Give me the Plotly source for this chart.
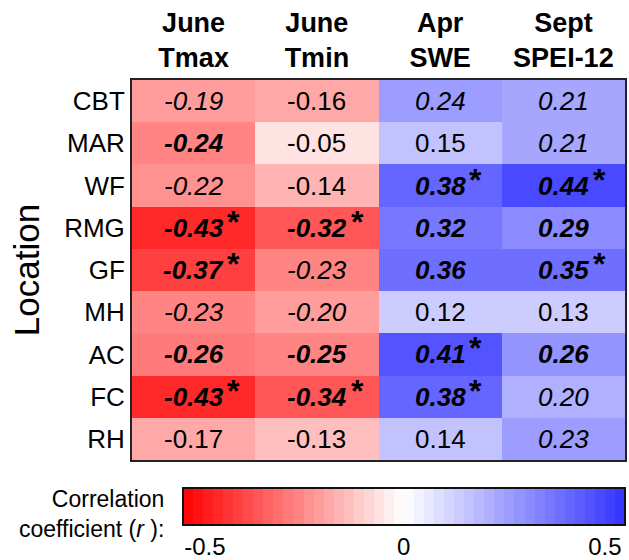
import plotly.graph_objects as go

# ---- data ----
locations = ["CBT", "MAR", "WF", "RMG", "GF", "MH", "AC", "FC", "RH"]
variables = ["June<br>Tmax", "June<br>Tmin", "Apr<br>SWE", "Sept<br>SPEI-12"]

tmax = [-0.19, -0.24, -0.22, -0.43, -0.37, -0.23, -0.26, -0.43, -0.17]
tmin = [-0.16, -0.05, -0.14, -0.32, -0.23, -0.20, -0.25, -0.34, -0.13]
swe = [0.24, 0.15, 0.38, 0.32, 0.36, 0.12, 0.41, 0.38, 0.14]
spei = [0.21, 0.21, 0.44, 0.29, 0.35, 0.13, 0.26, 0.20, 0.23]

# text style per cell: n = normal, i = italic, bi = bold italic
style_tmax = ["i", "bi", "i", "bi", "bi", "i", "bi", "bi", "n"]
style_tmin = ["n", "n", "n", "bi", "i", "i", "bi", "bi", "n"]
style_swe = ["i", "n", "bi", "bi", "bi", "n", "bi", "bi", "n"]
style_spei = ["i", "i", "bi", "bi", "bi", "n", "bi", "i", "i"]

# significance flags (asterisk)
sig_tmax = [0, 0, 0, 1, 1, 0, 0, 1, 0]
sig_tmin = [0, 0, 0, 1, 0, 0, 0, 1, 0]
sig_swe = [0, 0, 1, 0, 0, 0, 1, 1, 0]
sig_spei = [0, 0, 1, 0, 1, 0, 0, 0, 0]

cbar_tickvals = [-0.45, 0.0, 0.455]
cbar_ticktext = ["-0.5", "0", "0.5"]

FONT = "Liberation Sans, Arial, sans-serif"
CELL_SIZE = 26
STAR_SIZE = 32

columns = [tmax, tmin, swe, spei]
styles = [style_tmax, style_tmin, style_swe, style_spei]
sigs = [sig_tmax, sig_tmin, sig_swe, sig_spei]

z = [[columns[c][r] for c in range(len(variables))] for r in range(len(locations))]

# stepped red-white-blue colorscale
n_steps = 44
red = (255, 0, 0)
blue = (50, 50, 255)
white = (255, 255, 255)


def col_at(t):
    if t < 0.5:
        f = (0.5 - t) / 0.5
        c = [white[i] + (red[i] - white[i]) * f for i in range(3)]
    else:
        f = (t - 0.5) / 0.5
        c = [white[i] + (blue[i] - white[i]) * f for i in range(3)]
    return "rgb(%d,%d,%d)" % tuple(round(v) for v in c)


colorscale = []
for k in range(n_steps):
    a = k / n_steps
    b = (k + 1) / n_steps
    c = col_at((a + b) / 2)
    colorscale.append([a, c])
    colorscale.append([b, c])

fig = go.Figure()
fig.add_trace(go.Heatmap(
    z=z, x=variables, y=locations,
    zmin=-0.5, zmax=0.5,
    colorscale=colorscale,
    hoverinfo="skip",
    colorbar=dict(
        orientation="h",
        lenmode="pixels", len=442,
        thicknessmode="pixels", thickness=37,
        x=(183 - 132) / 495, xanchor="left",
        y=-(488 - 460) / 380, yanchor="top",
        xpad=0, ypad=0,
        outlinewidth=2, outlinecolor="#111111",
        tickvals=cbar_tickvals, ticktext=cbar_ticktext,
        ticks="", ticklen=0,
        tickfont=dict(family=FONT, size=24, color="black"),
    ),
))

# approximate glyph advance widths (em) of Liberation Sans for label widths
GLYPH_EM = {"-": 0.333, ".": 0.278}


def text_width(s):
    return sum(GLYPH_EM.get(ch, 0.556) for ch in s) * CELL_SIZE


annotations = []
for c, var in enumerate(variables):
    for r, loc in enumerate(locations):
        v = columns[c][r]
        s = styles[c][r]
        raw = "%.2f" % v
        num = raw
        if s == "i":
            num = "<i>%s</i>" % raw
        elif s == "bi":
            num = "<b><i>%s</i></b>" % raw
        annotations.append(dict(
            x=var, y=loc, xref="x", yref="y", text=num, showarrow=False,
            font=dict(family=FONT, size=CELL_SIZE, color="black"),
        ))
        if sigs[c][r]:
            annotations.append(dict(
                x=var, y=loc, xref="x", yref="y", text="<b>*</b>",
                showarrow=False, xanchor="left", yanchor="middle",
                xshift=text_width(raw) / 2 + 2, yshift=6,
                font=dict(family=FONT, size=STAR_SIZE, color="black"),
            ))

annotations.append(dict(
    x=(166 - 132) / 495, xref="paper", y=-(484 - 460) / 380, yref="paper",
    text="Correlation<br>coefficient (<i>r</i> ):",
    showarrow=False, align="right", xanchor="right", yanchor="top",
    font=dict(family=FONT, size=23, color="black"),
))

fig.update_layout(
    width=629, height=560,
    margin=dict(l=132, r=2, t=80, b=100),
    paper_bgcolor="white", plot_bgcolor="white",
    annotations=annotations,
    font=dict(family=FONT, color="black"),
)
fig.update_xaxes(
    side="top", showgrid=False, zeroline=False, ticks="",
    tickfont=dict(family=FONT, size=27, color="black", weight="bold"),
    showline=True, mirror=True, linecolor="#222222", linewidth=2,
)
fig.update_yaxes(
    autorange="reversed", showgrid=False, zeroline=False, ticks="",
    tickfont=dict(family=FONT, size=26, color="black"),
    showline=True, mirror=True, linecolor="#222222", linewidth=2,
    title=dict(text="Location", font=dict(family=FONT, size=35, color="black"), standoff=14),
)

fig.write_html("out.html")
